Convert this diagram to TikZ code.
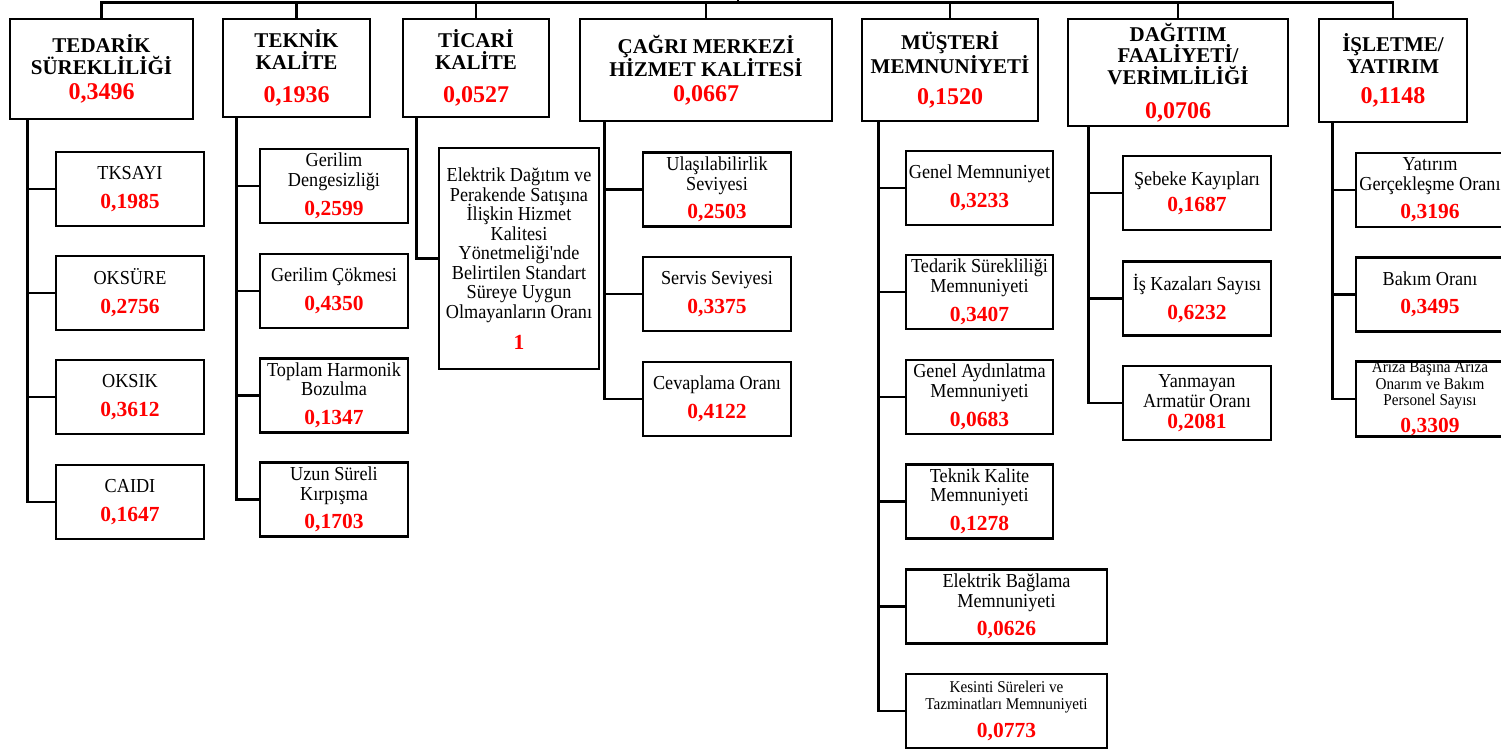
\documentclass[tikz,border=0pt]{standalone}
\usepackage{fontspec}
\setmainfont{Liberation Serif}
\newfontfamily\altyazi{Liberation Serif}[FakeStretch=0.92]
\usepackage{xcolor}

\newcommand{\ustdeger}[1]{{\color{red}\fontsize{24}{24}\selectfont #1}}
\newcommand{\altdeger}[1]{{\color{red}\rmfamily\bfseries\fontsize{21.5}{21.5}\selectfont #1}}
\newcommand{\sikisatir}{\lineskiplimit-20pt\relax}

\tikzset{
  anakutu/.style={draw, line width=2.8pt, align=center, inner sep=0pt,
                  font=\fontsize{21}{21.5}\selectfont\bfseries},
  altkutu/.style={draw, line width=2.8pt, align=center, inner sep=0pt,
                  minimum width=148, minimum height=74,
                  font={\altyazi\fontsize{19.8}{19.5}\selectfont\sikisatir}},
  kucukyazi/.style={font={\altyazi\fontsize{16.5}{16.5}\selectfont\sikisatir}},
  hat/.style={line width=2.6pt},
}

\begin{document}
\begin{tikzpicture}[x=1pt, y=-1pt]
\useasboundingbox (0,0) rectangle (1501,749);

% ana basliklar
\node[anakutu, minimum width=183, minimum height=100] (tedarik) at (101.5,69)
    {TEDARİK\\SÜREKLİLİĞİ\\[3.5pt]\ustdeger{0,3496}};
\node[anakutu, minimum width=147, minimum height=98] (teknik) at (296.5,68)
    {TEKNİK\\KALİTE\\[11.5pt]\ustdeger{0,1936}};
\node[anakutu, minimum width=146, minimum height=98] (ticari) at (476,68)
    {TİCARİ\\KALİTE\\[11.5pt]\ustdeger{0,0527}};
\node[anakutu, minimum width=252, minimum height=102] (cagri) at (706,70)
    {ÇAĞRI MERKEZİ\\HİZMET KALİTESİ\\[3.5pt]\ustdeger{0,0667}};
\node[anakutu, minimum width=176, minimum height=102] (musteri) at (950,70)
    {MÜŞTERİ\\MEMNUNİYETİ\\[9.5pt]\ustdeger{0,1520}};
\node[anakutu, minimum width=220, minimum height=107] (dagitim) at (1178,72.5)
    {DAĞITIM\\FAALİYETİ/\\VERİMLİLİĞİ\\[12.5pt]\ustdeger{0,0706}};
\node[anakutu, minimum width=148, minimum height=103] (isletme) at (1393,70.5)
    {İŞLETME/\\YATIRIM\\[9pt]\ustdeger{0,1148}};

% tedarik surekliligi
\node[altkutu] (tksayi) at (130,189) {TKSAYI\\[9.5pt]\altdeger{0,1985}};
\node[altkutu] (oksure) at (130,293) {OKSÜRE\\[9.5pt]\altdeger{0,2756}};
\node[altkutu] (oksik) at (130,397) {OKSIK\\[9.5pt]\altdeger{0,3612}};
\node[altkutu] (caidi) at (130,502) {CAIDI\\[9.5pt]\altdeger{0,1647}};

% teknik kalite
\node[altkutu] (gerdenge) at (334,186) {Gerilim\\Dengesizliği\\[9.5pt]\altdeger{0,2599}};
\node[altkutu] (gercokme) at (334,291) {Gerilim Çökmesi\\[9pt]\altdeger{0,4350}};
\node[altkutu] (harmonik) at (334,395.5) {Toplam Harmonik\\Bozulma\\[9.5pt]\altdeger{0,1347}};
\node[altkutu] (kirpisma) at (334,499.5) {Uzun Süreli\\Kırpışma\\[9pt]\altdeger{0,1703}};

% ticari kalite
\node[altkutu, minimum width=160, minimum height=221] (standart) at (519,258.5)
    {Elektrik Dağıtım ve\\Perakende Satışına\\İlişkin Hizmet\\Kalitesi\\Yönetmeliği'nde\\Belirtilen Standart\\Süreye Uygun\\Olmayanların Oranı\\[11.5pt]\altdeger{1}};

% cagri merkezi
\node[altkutu] (ulasilabilirlik) at (717,189.5) {Ulaşılabilirlik\\Seviyesi\\[9pt]\altdeger{0,2503}};
\node[altkutu] (servis) at (717,294) {Servis Seviyesi\\[9pt]\altdeger{0,3375}};
\node[altkutu] (cevaplama) at (717,399) {Cevaplama Oranı\\[9pt]\altdeger{0,4122}};

% musteri memnuniyeti
\node[altkutu, minimum width=147] (genelmem) at (979.5,188) {Genel Memnuniyet\\[9.5pt]\altdeger{0,3233}};
\node[altkutu, minimum width=147] (tedarikmem) at (979.5,292) {Tedarik Sürekliliği\\Memnuniyeti\\[9.5pt]\altdeger{0,3407}};
\node[altkutu, minimum width=147] (aydinlatma) at (979.5,397) {Genel Aydınlatma\\Memnuniyeti\\[9.5pt]\altdeger{0,0683}};
\node[altkutu, minimum width=147] (teknikmem) at (979.5,501.5) {Teknik Kalite\\Memnuniyeti\\[9.5pt]\altdeger{0,1278}};
\node[altkutu, minimum width=201] (baglama) at (1006.5,606.5) {Elektrik Bağlama\\Memnuniyeti\\[8.5pt]\altdeger{0,0626}};
\node[altkutu, kucukyazi, minimum width=201] (kesinti) at (1006.5,711)
    {Kesinti Süreleri ve\\Tazminatları Memnuniyeti\\[11.5pt]\altdeger{0,0773}};

% dagitim faaliyeti
\node[altkutu] (sebeke) at (1197,193) {Şebeke Kayıpları\\[6.5pt]\altdeger{0,1687}};
\node[altkutu] (iskazasi) at (1197,298.5) {İş Kazaları Sayısı\\[9.5pt]\altdeger{0,6232}};
\node[altkutu] (armatur) at (1197,403) {Yanmayan\\Armatür Oranı\\[1.5pt]\altdeger{0,2081}};

% isletme / yatirim
\node[altkutu] (yatirim) at (1430,190) {Yatırım\\Gerçekleşme Oranı\\[9pt]\altdeger{0,3196}};
\node[altkutu] (bakim) at (1430,294.5) {Bakım Oranı\\[8pt]\altdeger{0,3495}};
\node[altkutu, kucukyazi] (ariza) at (1430,399)
    {Arıza Başına Arıza\\Onarım ve Bakım\\Personel Sayısı\\[10.5pt]\altdeger{0,3309}};

% ust baglanti
\coordinate (kok) at (738,0);
\draw[hat] (tedarik.north) -- ++(0,-15) -| (isletme.north);
\foreach \k in {teknik,ticari,cagri,musteri,dagitim}
  \draw[hat] (\k.north) -- ++(0,-15);
\draw[hat] (kok) -- ++(0,4);

% alt baglantilar
\foreach \c in {tksayi,oksure,oksik,caidi}
  \draw[hat] (tedarik.south west) ++(19,0) |- (\c.west);
\foreach \c in {gerdenge,gercokme,harmonik,kirpisma}
  \draw[hat] (teknik.south west) ++(15,0) |- (\c.west);
\draw[hat] (ticari.south west) ++(15,0) |- (standart.west);
\foreach \c in {ulasilabilirlik,servis,cevaplama}
  \draw[hat] (cagri.south west) ++(26,0) |- (\c.west);
\foreach \c in {genelmem,tedarikmem,aydinlatma,teknikmem,baglama,kesinti}
  \draw[hat] (musteri.south west) ++(18,0) |- (\c.west);
\foreach \c in {sebeke,iskazasi,armatur}
  \draw[hat] (dagitim.south west) ++(22,0) |- (\c.west);
\foreach \c in {yatirim,bakim,ariza}
  \draw[hat] (isletme.south west) ++(15,0) |- (\c.west);
\end{tikzpicture}
\end{document}
